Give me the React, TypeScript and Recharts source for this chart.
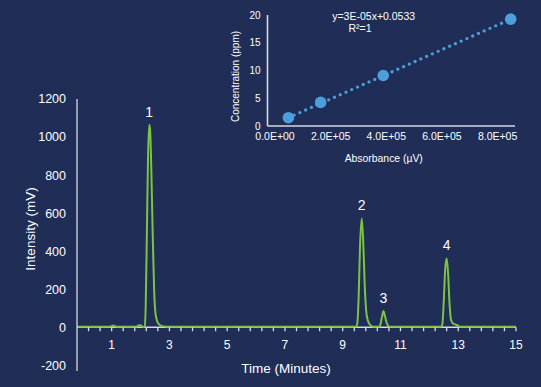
import React from 'react';
import {
  LineChart,
  Line,
  XAxis,
  YAxis,
  ReferenceLine,
  ReferenceDot,
  ComposedChart,
  Scatter,
  Label,
} from 'recharts';

// ---------- data ----------
const times = [
  -0.2, 0.9, 1.0, 1.05, 1.1, 1.2, 1.85, 1.93, 1.99, 2.05, 2.1, 2.15, 2.18, 2.22, 2.26, 2.3, 2.33, 2.37,
  2.42, 2.47, 2.52, 2.58, 2.65, 2.75, 2.9, 3.1, 9.45, 9.5, 9.55, 9.6, 9.66, 9.71, 9.76, 9.81, 9.87, 9.95,
  10.05, 10.25, 10.3, 10.36, 10.41, 10.46, 10.52, 10.58, 10.65, 12.4, 12.45, 12.5, 12.55, 12.6, 12.65,
  12.7, 12.75, 12.82, 12.9, 12.98, 13.05, 13.15, 15,
];
const intensities = [
  2, 2, 6, 9, 6, 2, 3, 9, 11, 5, 1, 4, 120, 500, 900, 1065, 1040, 850,
  500, 200, 70, 30, 14, 6, 3, 2, 2, 15, 150, 430, 572, 450, 230, 90, 35, 12,
  3, 2, 12, 55, 85, 60, 25, 6, 2, 2, 15, 140, 310, 362, 280,
  120, 40, 20, 15, 10, 3, 2, 2,
];
const peakTimes = [2.3, 9.66, 10.41, 12.6];
const peakHeights = [1065, 572, 85, 362];
const peakLabels = ['1', '2', '3', '4'];

const yTicks = [-200, 0, 200, 400, 600, 800, 1000, 1200];
const xTicks = [
  0.2, 0.6, 1, 1.4, 1.8, 2.2, 2.6, 3, 3.4, 3.8, 4.2, 4.6, 5, 5.4, 5.8, 6.2, 6.6, 7, 7.4, 7.8, 8.2, 8.6,
  9, 9.4, 9.8, 10.2, 10.6, 11, 11.4, 11.8, 12.2, 12.6, 13, 13.4, 13.8, 14.2, 14.6, 15,
];
const xLabels = [1, 3, 5, 7, 9, 11, 13, 15];

const absorbance = [48000, 164000, 389000, 847000];
const concentration = [1.5, 4.25, 9.1, 19.25];
const insetXTicks = [0, 200000, 400000, 600000, 800000];
const insetYTicks = [0, 5, 10, 15, 20];
const equationText = 'y=3E-05x+0.0533';
const r2Text = 'R\u00B2=1';

// ---------- style / layout ----------
const BG = '#1F2D57';
const GREEN = '#7DC242';
const BLUE = '#4C9FDB';
const AXIS = '#D6D9E2';
const FONT = '"Liberation Sans", Arial, Helvetica, sans-serif';

const W = 541;
const H = 387;
const M_TOP = 99;
const X_AXIS_H = 16;
const PLOT_BOTTOM = H - X_AXIS_H;
const Y_MIN = -230;
const Y_MAX = 1200;
const ZERO_Y = M_TOP + ((Y_MAX - 0) / (Y_MAX - Y_MIN)) * (PLOT_BOTTOM - M_TOP);

const chromData = times.map((t, i) => ({ t, v: intensities[i] }));
const points = absorbance.map((x, i) => ({ x, y: concentration[i] }));
const trend = [points[0], points[points.length - 1]];

const sci = (v: number) => {
  const [m, e] = v.toExponential(1).split('e');
  const n = Math.abs(parseInt(e, 10));
  return `${m}E${e[0] === '-' ? '-' : '+'}${String(n).padStart(2, '0')}`;
};

function TimeTick(props: any) {
  const { x, payload } = props;
  const v = payload.value as number;
  const show = xLabels.some((l) => Math.abs(l - v) < 1e-6);
  return (
    <g>
      <line x1={x} x2={x} y1={ZERO_Y} y2={ZERO_Y + 4} stroke={AXIS} strokeWidth={1.3} />
      {show && (
        <text x={x} y={ZERO_Y + 22} textAnchor="middle" fill="#fff" fontSize={12} fontFamily={FONT}>
          {Math.round(v)}
        </text>
      )}
    </g>
  );
}

const mainYTitle = (p: any) => {
  const vb = p.viewBox;
  const cx = vb.x + 13;
  const cy = vb.y + vb.height / 2 - 6;
  return (
    <text
      x={cx}
      y={cy}
      transform={`rotate(-90 ${cx} ${cy})`}
      textAnchor="middle"
      dominantBaseline="central"
      fill="#fff"
      fontSize={13.5}
      fontFamily={FONT}
    >
      Intensity (mV)
    </text>
  );
};

const mainXTitle = (p: any) => {
  const vb = p.viewBox;
  const cx = vb.x + vb.width / 2 - 10.5;
  const cy = vb.y - 3;
  return (
    <text x={cx} y={cy} textAnchor="middle" dominantBaseline="central" fill="#fff" fontSize={13.5} fontFamily={FONT}>
      Time (Minutes)
    </text>
  );
};

const insetYTitle = (p: any) => {
  const vb = p.viewBox;
  const cx = vb.x + 7.5;
  const cy = vb.y + vb.height / 2 + 6;
  return (
    <text
      x={cx}
      y={cy}
      transform={`rotate(-90 ${cx} ${cy})`}
      textAnchor="middle"
      dominantBaseline="central"
      fill="#fff"
      fontSize={10}
      fontFamily={FONT}
    >
      Concentration (ppm)
    </text>
  );
};

const insetXTitle = (p: any) => {
  const vb = p.viewBox;
  const cx = vb.x + vb.width / 2 - 7.5;
  const cy = vb.y + 32;
  return (
    <text x={cx} y={cy} textAnchor="middle" dominantBaseline="central" fill="#fff" fontSize={10.4} fontFamily={FONT}>
      Absorbance (µV)
    </text>
  );
};

const Dot = (props: any) => <circle cx={props.cx} cy={props.cy} r={5.8} fill={BLUE} />;

export default function App() {
  return (
    <div
      style={{
        position: 'absolute',
        left: 0,
        top: 0,
        width: W,
        height: H,
        background: BG,
        overflow: 'hidden',
        fontFamily: FONT,
      }}
    >
      <div style={{ position: 'absolute', left: 0, top: 0 }}>
        <LineChart width={W} height={H} data={chromData} margin={{ top: M_TOP, right: 25, bottom: 0, left: 17 }}>
          <XAxis
            dataKey="t"
            type="number"
            domain={[-0.2, 15]}
            ticks={xTicks}
            interval={0}
            axisLine={false}
            tickLine={false}
            tick={<TimeTick />}
            height={X_AXIS_H}
          >
            <Label content={mainXTitle} />
          </XAxis>
          <YAxis
            type="number"
            domain={[Y_MIN, Y_MAX]}
            ticks={yTicks}
            interval={0}
            width={60}
            axisLine={{ stroke: AXIS, strokeWidth: 1.3 }}
            tickLine={false}
            tickSize={6}
            tickMargin={5}
            tick={{ fill: '#fff', fontSize: 12.5, fontFamily: FONT }}
          >
            <Label content={mainYTitle} />
          </YAxis>
          <ReferenceLine y={0} stroke={AXIS} strokeWidth={1.3} />
          <Line
            type="monotone"
            dataKey="v"
            stroke={GREEN}
            strokeWidth={2}
            dot={false}
            activeDot={false}
            isAnimationActive={false}
          />
          {peakTimes.map((t, i) => (
            <ReferenceDot
              key={peakLabels[i]}
              x={t}
              y={peakHeights[i]}
              r={0}
              fill="none"
              stroke="none"
              ifOverflow="visible"
              label={{ value: peakLabels[i], position: 'top', offset: 8, fill: '#fff', fontSize: 14, fontFamily: FONT }}
            />
          ))}
        </LineChart>
      </div>

      <div style={{ position: 'absolute', left: 0, top: 0 }}>
        <ComposedChart width={W} height={170} margin={{ top: 15, right: 26, bottom: 0, left: 227.5 }}>
          <XAxis
            dataKey="x"
            type="number"
            domain={[-27000, 862500]}
            ticks={insetXTicks}
            interval={0}
            tickFormatter={sci}
            height={44}
            axisLine={{ stroke: AXIS, strokeWidth: 1.6 }}
            tickLine={false}
            tickSize={0}
            tickMargin={7}
            tick={{ fill: '#fff', fontSize: 10.5, fontFamily: FONT }}
          >
            <Label content={insetXTitle} />
          </XAxis>
          <YAxis
            type="number"
            domain={[0, 20]}
            ticks={insetYTicks}
            interval={0}
            width={40}
            axisLine={{ stroke: AXIS, strokeWidth: 1.6 }}
            tickLine={false}
            tickSize={0}
            tickMargin={7}
            tick={{ fill: '#fff', fontSize: 10, fontFamily: FONT }}
          >
            <Label content={insetYTitle} />
          </YAxis>
          <Line
            data={trend}
            dataKey="y"
            type="linear"
            stroke={BLUE}
            strokeWidth={3.3}
            strokeDasharray="0 6.3"
            strokeLinecap="round"
            dot={false}
            activeDot={false}
            isAnimationActive={false}
          />
          <Scatter data={points} dataKey="y" fill={BLUE} shape={Dot} isAnimationActive={false} />
        </ComposedChart>
      </div>

      <svg width={W} height={H} style={{ position: 'absolute', left: 0, top: 0, pointerEvents: 'none' }}>
        <text x={373.7} y={15.7} textAnchor="middle" dominantBaseline="central" fill="#fff" fontSize={10.5} fontFamily={FONT}>
          {equationText}
        </text>
        <text x={360} y={28.3} textAnchor="middle" dominantBaseline="central" fill="#fff" fontSize={10.5} fontFamily={FONT}>
          {r2Text}
        </text>
      </svg>
    </div>
  );
}
